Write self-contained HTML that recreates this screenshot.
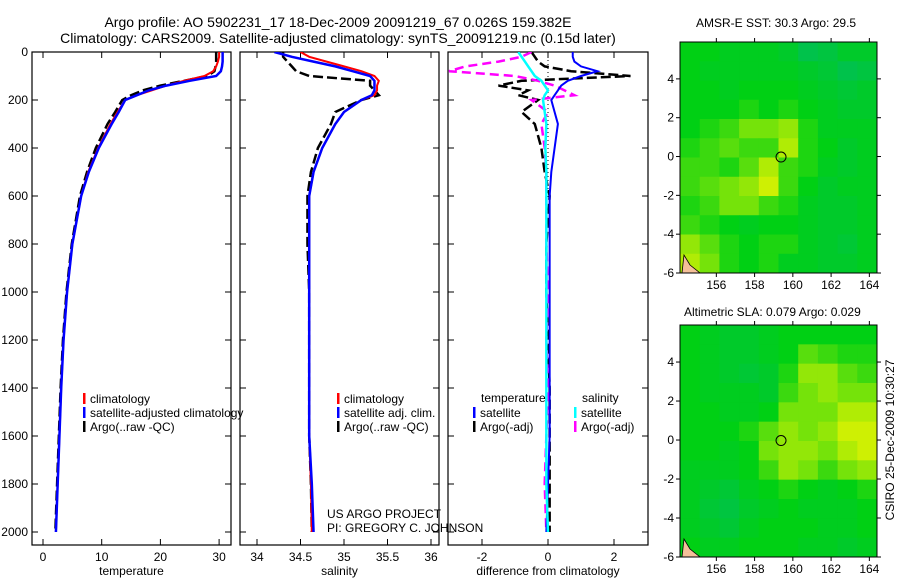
<!DOCTYPE html>
<html><head><meta charset="utf-8"><style>
body{margin:0;background:#fff;}
svg{display:block;font-family:"Liberation Sans",sans-serif;}
</style></head><body>
<svg id="c" width="900" height="580" xmlns="http://www.w3.org/2000/svg">
<text x="338" y="27" font-size="14" text-anchor="middle">Argo profile: AO 5902231_17 18-Dec-2009 20091219_67 0.026S 159.382E</text>
<text x="338" y="43" font-size="14" text-anchor="middle">Climatology: CARS2009. Satellite-adjusted climatology: synTS_20091219.nc (0.15d later)</text>
<text x="696" y="27" font-size="12">AMSR-E SST: 30.3 Argo: 29.5</text>
<text x="684" y="316" font-size="12">Altimetric SLA: 0.079 Argo: 0.029</text>
<text x="0" y="0" font-size="12" text-anchor="middle" transform="translate(894,440) rotate(-90)">CSIRO 25-Dec-2009 10:30:27</text>
<text x="327" y="518" font-size="12">US ARGO PROJECT</text>
<text x="327" y="532" font-size="12">PI: GREGORY C. JOHNSON</text>
</svg>
<script>
const depths=[0,20,40,60,80,100,120,140,160,180,200,250,300,400,500,600,800,1000,1200,1400,1600,1800,2000];
const tempClim=[30,30,29.8,29.5,29,27.5,24,21,18.5,16,14,12.7,11.5,9.4,7.7,6.5,5,4.1,3.5,3.1,2.8,2.5,2.2];
const tempSat=[30.6,30.6,30.6,30.5,30.3,29.5,25,21,18,16,14,12.9,11.7,9.5,7.8,6.5,5,4.1,3.5,3.1,2.8,2.5,2.2];
const tempArgo=[29.5,29.5,29.5,29.4,29.2,28,24,20,17,15,13.5,12.3,11,9,7.5,6.3,4.9,4.0,3.4,3.0,2.7,2.4,2.1];
const salClim=[34.5,34.6,34.8,35.0,35.2,35.35,35.4,35.38,35.38,35.35,35.2,35.0,34.9,34.75,34.65,34.6,34.6,34.6,34.6,34.6,34.6,34.62,34.63];
const salSat=[34.2,34.4,34.65,34.9,35.1,35.3,35.35,35.35,35.35,35.32,35.2,35.0,34.9,34.75,34.65,34.6,34.6,34.6,34.6,34.6,34.6,34.63,34.65];
const salArgo=[34.3,34.3,34.35,34.4,34.45,34.6,35.3,35.3,35.35,35.4,35.2,34.9,34.85,34.7,34.62,34.58,34.58,34.6,34.6,34.6,34.6,34.62,34.63];
const diffTSat=[0.75,0.75,0.8,1.0,1.5,1.0,0.6,0.4,0.3,0.2,0.1,0.2,0.3,0.2,0.1,0.05,0.05,0.05,0.05,0.05,0.05,0.0,-0.05];
const diffTArgo=[-0.5,-0.4,-0.3,-0.1,0.7,2.5,-0.8,-1.5,-0.6,-0.9,-0.3,-0.8,-0.4,-0.2,-0.1,0.05,-0.05,-0.05,0.0,0.05,0.05,0.05,0.05];
const diffSSat=[-0.9,-0.8,-0.7,-0.6,-0.5,-0.4,-0.2,-0.1,0,-0.1,-0.15,-0.1,-0.05,-0.08,-0.05,-0.05,-0.05,-0.05,-0.05,-0.05,-0.05,-0.05,0.0];
const diffSArgo=[-0.5,-0.8,-1.5,-2.5,-3,-1.0,-0.3,0.2,0.5,0.8,-0.5,0.0,-0.2,-0.1,-0.05,-0.05,-0.05,0.0,-0.05,0.0,-0.05,-0.1,-0.05];
const depthTicks=[0,200,400,600,800,1000,1200,1400,1600,1800,2000];
const tempTicks=[0,10,20,30];
const salTicks=[34,34.5,35,35.5,36];
const diffTicks=[-2,0,2];
const latTicks=[-6,-4,-2,0,2,4];
const lonTicks=[156,158,160,162,164];
const sstGrid=[
[.5,.5,.45,.45,.45,.4,.25,.3,.4,.4],
[.5,.45,.45,.45,.45,.45,.4,.35,.25,.3],
[.5,.5,.45,.5,.5,.5,.45,.4,.35,.4],
[.5,.5,.5,.55,.5,.55,.5,.45,.4,.4],
[.5,.55,.6,.7,.7,.75,.55,.45,.45,.45],
[.55,.6,.65,.6,.6,.8,.55,.5,.4,.45],
[.6,.6,.55,.65,.8,.6,.55,.45,.4,.45],
[.6,.65,.7,.75,.85,.6,.5,.4,.45,.45],
[.55,.6,.7,.7,.6,.55,.45,.4,.4,.45],
[.6,.55,.5,.45,.5,.5,.45,.4,.4,.45],
[.75,.65,.55,.5,.55,.55,.45,.4,.35,.45],
[.8,.7,.55,.5,.55,.45,.45,.4,.4,.45]];
const slaGrid=[
[.5,.45,.4,.4,.45,.5,.5,.5,.5,.5],
[.5,.45,.4,.4,.45,.5,.65,.6,.55,.55],
[.5,.45,.4,.35,.4,.55,.75,.75,.65,.6],
[.5,.45,.45,.45,.4,.6,.7,.75,.7,.7],
[.5,.5,.45,.45,.5,.7,.7,.7,.8,.8],
[.5,.5,.5,.55,.65,.75,.7,.75,.85,.85],
[.5,.5,.45,.5,.7,.75,.75,.7,.8,.85],
[.45,.45,.45,.5,.6,.75,.7,.6,.7,.75],
[.45,.4,.35,.45,.5,.55,.5,.45,.5,.55],
[.45,.35,.3,.4,.45,.5,.45,.45,.45,.5],
[.45,.4,.35,.45,.5,.5,.5,.45,.45,.5],
[.5,.45,.45,.5,.5,.5,.45,.45,.4,.45]];
const argoLon=159.382, argoLat=-0.026;

const S="http://www.w3.org/2000/svg", svg=document.getElementById('c');
function el(t,a,p){const e=document.createElementNS(S,t);for(const k in a)e.setAttribute(k,a[k]);(p||svg).appendChild(e);return e;}
const yD=d=>52+d*0.24;
function panel(name,x0,x1,xf,ticks,fmt,label,clipId){
  const g=el('g',{});
  
  
  el('rect',{x:x0,y:52,width:x1-x0,height:493,fill:'none',stroke:'#000','stroke-width':1.2},g);
  const cp=el('clipPath',{id:clipId},g);el('rect',{x:x0,y:52,width:x1-x0,height:493},cp);
  depthTicks.forEach(d=>{const y=yD(d);el('line',{x1:x0,x2:x0+6,y1:y,y2:y,stroke:'#000'},g);el('line',{x1:x1-6,x2:x1,y1:y,y2:y,stroke:'#000'},g);
    if(x0<40){const t=el('text',{x:x0-4,y:y+4,'font-size':12,'text-anchor':'end'},g);t.textContent=d;}});
  ticks.forEach(v=>{const x=xf(v);el('line',{x1:x,x2:x,y1:545,y2:539,stroke:'#000'},g);el('line',{x1:x,x2:x,y1:52,y2:58,stroke:'#000'},g);
    const t=el('text',{x:x,y:561,'font-size':12,'text-anchor':'middle'},g);t.textContent=fmt(v);});
  const t=el('text',{x:(x0+x1)/2,y:575,'font-size':12,'text-anchor':'middle'},g);t.textContent=label;
  
  return g;
}
function line(g,vals,xf,col,w,dash,name,clip){
  const p=el('polyline',{points:vals.map((v,i)=>xf(v)+','+yD(depths[i])).join(' '),fill:'none',stroke:col,'stroke-width':w,'stroke-dasharray':dash||'none','clip-path':'url(#'+clip+')'},g);
  
  
}
function legend(g,x,y,items){items.forEach((it,i)=>{const yy=y+i*14;el('rect',{x:x,y:yy-9,width:2.5,height:11,fill:it[1]},g);
  const t=el('text',{x:x+7,y:yy+1,'font-size':12},g);t.textContent=it[0];});}

const xT=v=>43+v*5.87;
const g1=panel('temperature-panel',32,231,xT,tempTicks,v=>v,'temperature','c1');
line(g1,tempArgo,xT,'#000',2.5,'10,4','argo-temperature-line','c1');
line(g1,tempClim,xT,'#f00',2,'','climatology-temperature-line','c1');
line(g1,tempSat,xT,'#00f',2.5,'','satellite-temperature-line','c1');
legend(g1,83,402,[['climatology','#f00'],['satellite-adjusted climatology','#00f'],['Argo(..raw -QC)','#000']]);

const xS=v=>257+(v-34)*87;
const g2=panel('salinity-panel',240,439,xS,salTicks,v=>v,'salinity','c2');
line(g2,salArgo,xS,'#000',2.5,'10,4','argo-salinity-line','c2');
line(g2,salClim,xS,'#f00',2,'','climatology-salinity-line','c2');
line(g2,salSat,xS,'#00f',2.5,'','satellite-salinity-line','c2');
legend(g2,337,402,[['climatology','#f00'],['satellite adj. clim.','#00f'],['Argo(..raw -QC)','#000']]);

const xF=v=>548+v*33;
const g3=panel('difference-panel',448,648,xF,diffTicks,v=>v,'difference from climatology','c3');
el('line',{x1:xF(0),x2:xF(0),y1:52,y2:200,stroke:'#000','stroke-dasharray':'1,3'},g3);
line(g3,diffTArgo,xF,'#000',2.5,'10,4','argo-temperature-diff-line','c3');
line(g3,diffSArgo,xF,'#f0f',2.5,'9,5','argo-salinity-diff-line','c3');
line(g3,diffTSat,xF,'#00f',2,'','satellite-temperature-diff-line','c3');
line(g3,diffSSat,xF,'#0ff',2.5,'','satellite-salinity-diff-line','c3');
{const t=el('text',{x:481,y:402,'font-size':12},g3);t.textContent='temperature';const t2=el('text',{x:582,y:402,'font-size':12},g3);t2.textContent='salinity';}
legend(g3,473,416,[['satellite','#00f'],['Argo(-adj)','#000']]);
legend(g3,574,416,[['satellite','#0ff'],['Argo(-adj)','#f0f']]);

function cmap(v){const a=[0,180,130],b=[0,208,20],c=[235,245,0];let p,q,t;if(v<0.5){p=a;q=b;t=v/0.5;}else{p=b;q=c;t=Math.min(1,(v-0.5)/0.4);}
  return 'rgb('+p.map((x,i)=>Math.round(x+(q[i]-x)*t)).join(',')+')';}
function map(name,grid,top,bot){
  const x0=680,x1=877,lon0=154.1,lon1=164.4,lat0=5.9,lat1=-6;
  const xL=l=>x0+(l-lon0)/(lon1-lon0)*(x1-x0), yL=l=>top+(lat0-l)/(lat0-lat1)*(bot-top);
  const g=el('g',{});
  const R=grid.length,C=grid[0].length,cw=(x1-x0)/C,ch=(bot-top)/R;
  grid.forEach((row,r)=>row.forEach((v,c)=>{const rc=el('rect',{x:x0+c*cw,y:top+r*ch,width:cw+0.5,height:ch+0.5,fill:cmap(v)},g);
    }));
  el('path',{d:`M${x0+2},${bot} L${x0+4},${bot-18} L${x0+10},${bot-8} L${x0+20},${bot} Z`,fill:'#f5c09a',stroke:'#000','stroke-width':0.8},g);
  el('rect',{x:x0,y:top,width:x1-x0,height:bot-top,fill:'none',stroke:'#000'},g);
  latTicks.forEach(l=>{const y=yL(l);el('line',{x1:x0-4,x2:x0,y1:y,y2:y,stroke:'#000'},g);el('line',{x1:x1,x2:x1+4,y1:y,y2:y,stroke:'#000'},g);
    const t=el('text',{x:x0-6,y:y+4,'font-size':12,'text-anchor':'end'},g);t.textContent=l;});
  lonTicks.forEach(l=>{const x=xL(l);el('line',{x1:x,x2:x,y1:top-4,y2:top,stroke:'#000'},g);el('line',{x1:x,x2:x,y1:bot,y2:bot+4,stroke:'#000'},g);
    const t=el('text',{x:x,y:bot+16,'font-size':12,'text-anchor':'middle'},g);t.textContent=l;});
  const m=el('circle',{cx:xL(argoLon),cy:yL(argoLat),r:5,fill:'none',stroke:'#000'},g);
  
}
map('sst-map',sstGrid,42,273);
map('sla-map',slaGrid,325,557);
</script>
</body></html>
